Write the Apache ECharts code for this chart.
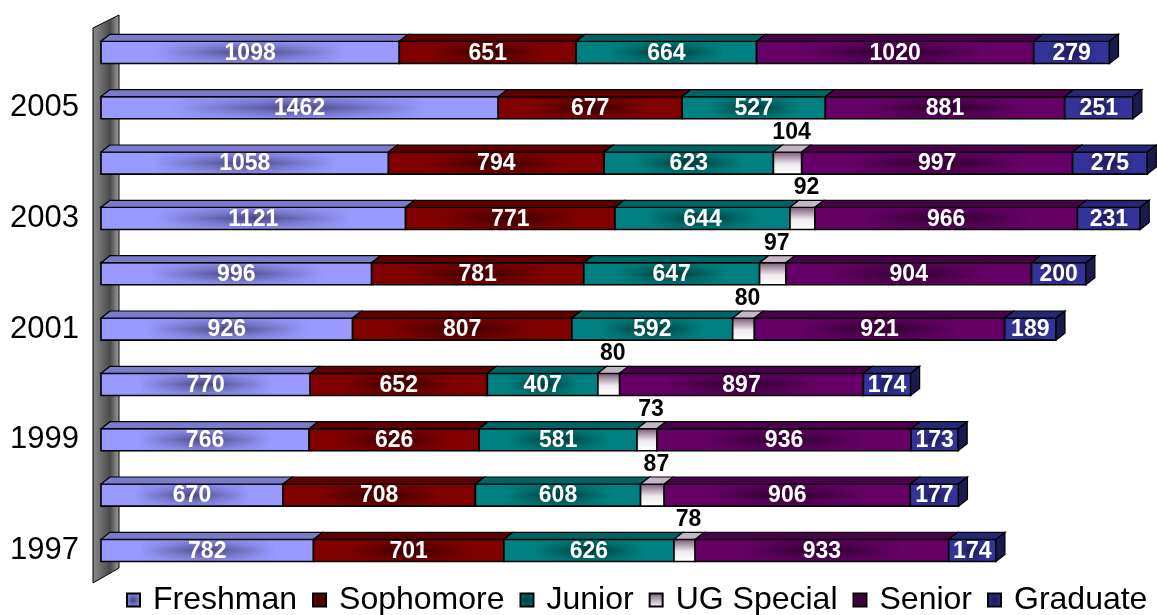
<!DOCTYPE html>
<html>
<head>
<meta charset="utf-8">
<script src="https://cdn.jsdelivr.net/npm/echarts@6/dist/echarts.min.js"></script>
<style>
  html, body { margin: 0; padding: 0; background: #fff; }
  #main { width: 1157px; height: 615px; }
</style>
</head>
<body>
<div id="main"></div>
<script>
var years = ['1997', '1998', '1999', '2000', '2001', '2002', '2003', '2004', '2005', '2006'];
var freshman  = [782, 670, 766, 770, 926, 996, 1121, 1058, 1462, 1098];
var sophomore = [701, 708, 626, 652, 807, 781, 771, 794, 677, 651];
var junior    = [626, 608, 581, 407, 592, 647, 644, 623, 527, 664];
var ugSpecial = [78, 87, 73, 80, 80, 97, 92, 104, null, null];
var senior    = [933, 906, 936, 897, 921, 904, 966, 997, 881, 1020];
var graduate  = [174, 177, 173, 174, 189, 200, 231, 275, 251, 279];

var groups = [
  { name: 'Freshman',   data: freshman,  edge: '#9999ff', mid: '#45457f', top: '#7b7bcc' },
  { name: 'Sophomore',  data: sophomore, edge: '#800000', mid: '#330000', top: '#5e0000' },
  { name: 'Junior',     data: junior,    edge: '#008080', mid: '#003535', top: '#006464' },
  { name: 'UG Special', data: ugSpecial, edge: '#ffffff', mid: '#7a5a7a', top: '#c4b4c4', vertical: true },
  { name: 'Senior',     data: senior,    edge: '#660066', mid: '#280028', top: '#4a004a' },
  { name: 'Graduate',   data: graduate,  edge: '#333399', mid: '#181850', top: '#262673', side: '#1a1a4d' }
];

var DX = 9, DY = 7;

function lin(x2, y2, stops) {
  return new echarts.graphic.LinearGradient(0, 0, x2, y2, stops);
}

function makeRender(g, isLast) {
  return function (params, api) {
    var s = api.value(0), e = api.value(1), yi = api.value(2), v = api.value(3);
    var p0 = api.coord([s, yi]);
    var p1 = api.coord([e, yi]);
    var h = api.size([0, 1])[1] * 0.4;
    var x0 = p0[0], x1 = p1[0], top = p0[1] - h / 2;
    var w = x1 - x0;
    var kids = [];
    var fill, over = null;
    if (g.vertical) {
      fill = lin(0, 1, [{offset: 0, color: g.mid}, {offset: 0.55, color: '#eeeaee'}, {offset: 1, color: '#ffffff'}]);
    } else {
      fill = lin(1, 0, [
        {offset: 0, color: g.edge}, {offset: 0.18, color: g.edge},
        {offset: 0.5, color: g.mid}, {offset: 0.82, color: g.edge}, {offset: 1, color: g.edge}]);
      over = lin(0, 1, [
        {offset: 0, color: echarts.color.modifyAlpha(g.edge, 0.85)},
        {offset: 0.5, color: echarts.color.modifyAlpha(g.edge, 0)},
        {offset: 1, color: echarts.color.modifyAlpha(g.edge, 0.85)}]);
    }
    kids.push({ type: 'rect', shape: {x: x0, y: top, width: w, height: h}, style: {fill: fill} });
    if (over) kids.push({ type: 'rect', shape: {x: x0, y: top, width: w, height: h}, style: {fill: over} });
    kids.push({ type: 'rect', shape: {x: x0, y: top, width: w, height: h},
      style: {fill: 'none', stroke: '#000', lineWidth: 1.6} });
    kids.push({ type: 'polygon',
      shape: {points: [[x0, top], [x0 + DX, top - DY], [x1 + DX, top - DY], [x1, top]]},
      style: {fill: g.top, stroke: '#000', lineWidth: 1.2} });
    if (isLast) {
      kids.push({ type: 'polygon',
        shape: {points: [[x1, top], [x1 + DX, top - DY], [x1 + DX, top + h - DY], [x1, top + h]]},
        style: {fill: g.side, stroke: '#000', lineWidth: 1.2} });
    }
    if (g.vertical) {
      kids.push({ type: 'text', style: {
        x: x0 + w / 2 + 4, y: top - DY - 1, text: String(v), align: 'center', verticalAlign: 'bottom',
        fill: '#000', font: 'bold 23px "Liberation Sans", Arial, sans-serif' } });
    } else {
      kids.push({ type: 'text', style: {
        x: x0 + w / 2, y: top + h / 2 + 1, text: String(v), align: 'center', verticalAlign: 'middle',
        fill: '#fff', font: 'bold 23px "Liberation Sans", Arial, sans-serif' } });
    }
    return { type: 'group', children: kids };
  };
}

var series = [];
var cum = years.map(function () { return 0; });
groups.forEach(function (g, k) {
  var items = [];
  g.data.forEach(function (v, i) {
    if (v == null) return;
    items.push([cum[i], cum[i] + v, i, v]);
    cum[i] += v;
  });
  var legendColor = g.vertical
    ? lin(0, 1, [{offset: 0, color: g.mid}, {offset: 1, color: '#fff'}])
    : new echarts.graphic.RadialGradient(0.5, 0.5, 0.6, [{offset: 0, color: g.mid}, {offset: 1, color: g.edge}]);
  series.push({
    name: g.name,
    type: 'custom',
    renderItem: makeRender(g, k === groups.length - 1),
    encode: { x: [0, 1], y: 2 },
    itemStyle: { color: legendColor, borderColor: '#000', borderWidth: 1 },
    data: items,
    z: 2 + k
  });
});

var myChart = echarts.init(document.getElementById('main'));
var option = {
  animation: false,
  grid: { left: 101, top: 24.7, width: 1046, height: 553.4 },
  xAxis: { type: 'value', min: 0, max: 3850, show: false },
  yAxis: {
    type: 'category',
    data: years,
    axisLine: { show: false },
    axisTick: { show: false },
    splitLine: { show: false },
    axisLabel: {
      interval: 1,
      margin: 22,
      color: '#000',
      fontSize: 31,
      fontFamily: '"Liberation Sans", Arial, sans-serif'
    }
  },
  legend: {
    left: 126,
    top: 584,
    width: 1031,
    padding: 0,
    itemWidth: 13,
    itemHeight: 13,
    itemGap: 15,
    icon: 'rect',
    textStyle: { fontSize: 32, color: '#000', fontFamily: '"Liberation Sans", Arial, sans-serif', padding: [0, 0, 0, 8] },
    data: groups.map(function (g) { return g.name; })
  },
  graphic: [{
    type: 'polygon',
    z: 0,
    shape: { points: [[93, 28], [119, 15], [119, 568], [93, 583]] },
    style: {
      fill: new echarts.graphic.LinearGradient(0, 0, 1, 0, [
        {offset: 0, color: '#8c8c8c'}, {offset: 0.65, color: '#4a4a4a'}, {offset: 1, color: '#a0a0a0'}]),
      stroke: '#000', lineWidth: 1
    }
  }],
  series: series
};
myChart.setOption(option);
</script>
</body>
</html>
